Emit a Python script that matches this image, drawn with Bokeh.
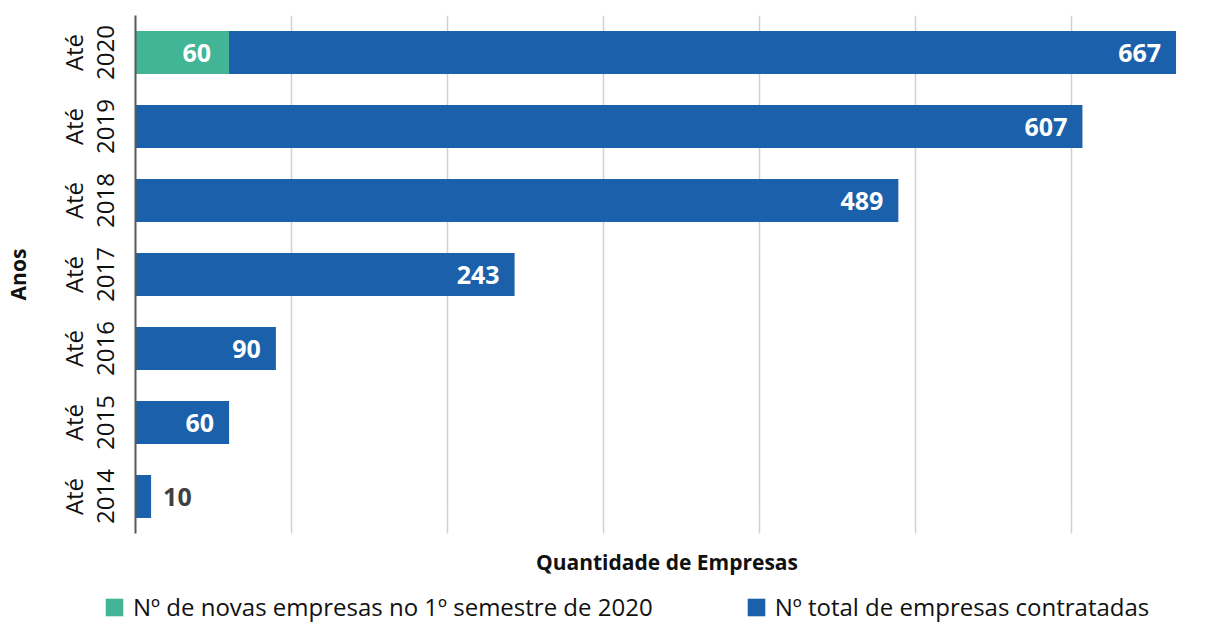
import math
from bokeh.plotting import figure
from bokeh.layouts import column
from bokeh.models import ColumnDataSource, Range1d, FixedTicker, Legend, LegendItem, LinearAxis
from bokeh.core.properties import value
from bokeh.embed import file_html
from bokeh.resources import INLINE

# ---- data ----
categories = ["Até 2014", "Até 2015", "Até 2016", "Até 2017", "Até 2018", "Até 2019", "Até 2020"]
label_prefix = ["Até", "Até", "Até", "Até", "Até", "Até", "Até"]
label_years = ["2014", "2015", "2016", "2017", "2018", "2019", "2020"]
totals = [10, 60, 90, 243, 489, 607, 667]
new_2020 = [0, 0, 0, 0, 0, 0, 60]
series_names = ["Nº de novas empresas no 1º semestre de 2020", "Nº total de empresas contratadas"]
x_ticks = [0, 100, 200, 300, 400, 500, 600]
x_title = "Quantidade de Empresas"
y_title = "Anos"

BLUE = "#1B60AB"
GREEN = "#41B596"
FONT = "Open Sans"
TXT = "#111111"

ys = [i + 0.5 for i in range(len(categories))]

p = figure(width=1198, height=590, x_range=Range1d(0, 681.4), y_range=Range1d(0, len(categories)),
           output_backend="svg", toolbar_location=None,
           min_border_left=135, min_border_right=0, min_border_top=15, min_border_bottom=57)
p.outline_line_color = None
p.frame_align = False

# x axis: only the title
xa = p.xaxis[0]
xa.ticker = FixedTicker(ticks=x_ticks)
xa.major_label_overrides = {t: "" for t in x_ticks}
xa.major_label_text_font_size = "0px"
xa.major_label_standoff = 0
xa.major_tick_in = 0
xa.major_tick_out = 0
xa.minor_tick_in = 0
xa.minor_tick_out = 0
xa.axis_line_color = None
xa.axis_label = x_title
xa.axis_label_standoff = 14
xa.axis_label_text_font = FONT
xa.axis_label_text_font_style = "bold"
xa.axis_label_text_font_size = "21px"
xa.axis_label_text_color = TXT

p.xgrid.ticker = FixedTicker(ticks=x_ticks)
p.xgrid.grid_line_color = "#D0D0D0"
p.xgrid.grid_line_width = 1.5
p.ygrid.visible = False

# y axis (inner): years
ya = p.yaxis[0]
ya.ticker = FixedTicker(ticks=ys)
ya.major_label_overrides = {y: t for y, t in zip(ys, label_years)}
ya.major_label_orientation = "vertical"
ya.major_tick_in = 0
ya.major_tick_out = 0
ya.minor_tick_in = 0
ya.minor_tick_out = 0
ya.major_label_standoff = 22
ya.axis_line_color = "#595959"
ya.axis_line_width = 2
ya.major_label_text_font = FONT
ya.major_label_text_font_size = "24px"
ya.major_label_text_color = TXT

# y axis (outer): "Até" + axis title
ya2 = LinearAxis(ticker=FixedTicker(ticks=ys),
                 major_label_overrides={y: t for y, t in zip(ys, label_prefix)},
                 major_label_orientation="vertical",
                 major_tick_in=0, major_tick_out=0, minor_tick_in=0, minor_tick_out=0,
                 major_label_standoff=4, axis_line_color=None,
                 major_label_text_font=FONT, major_label_text_font_size="24px",
                 major_label_text_color=TXT,
                 axis_label=y_title, axis_label_standoff=22,
                 axis_label_text_font=FONT, axis_label_text_font_style="bold",
                 axis_label_text_font_size="21px", axis_label_text_color=TXT)
p.add_layout(ya2, "left")

src = ColumnDataSource(dict(y=ys, total=totals, cat=categories))
blue_r = p.hbar(y="y", left=0, right="total", height=0.58, source=src, fill_color=BLUE, line_color=None)

g_y = [y for y, n in zip(ys, new_2020) if n > 0]
g_n = [n for n in new_2020 if n > 0]
gsrc = ColumnDataSource(dict(y=g_y, new=g_n))
green_r = p.hbar(y="y", left=0, right="new", height=0.58, source=gsrc, fill_color=GREEN, line_color=None)

# value labels
lab_txt, lab_x, lab_y, lab_off, lab_align, lab_col = [], [], [], [], [], []
for y, t in zip(ys, totals):
    lab_txt.append(str(t)); lab_x.append(t); lab_y.append(y)
    if t < 30:
        lab_off.append(12); lab_align.append("left"); lab_col.append("#404040")
    else:
        lab_off.append(-15); lab_align.append("right"); lab_col.append("white")
for y, n in zip(g_y, g_n):
    lab_txt.append(str(n)); lab_x.append(n); lab_y.append(y)
    lab_off.append(-18); lab_align.append("right"); lab_col.append("white")
tsrc = ColumnDataSource(dict(x=lab_x, y=lab_y, text=lab_txt, off=lab_off, align=lab_align, col=lab_col))
p.text(x="x", y="y", text="text", x_offset="off", text_align="align", text_color="col", source=tsrc,
       text_baseline="middle", text_font=value(FONT), text_font_style="bold", text_font_size="25px")

# legend in its own strip below the chart (swatch renderers sit outside the strip's visible range)
pl = figure(width=1198, height=33, x_range=Range1d(0, 1), y_range=Range1d(0, 1),
            output_backend="svg", toolbar_location=None, x_axis_type=None, y_axis_type=None,
            min_border_left=0, min_border_right=0, min_border_top=0, min_border_bottom=0)
pl.outline_line_color = None
pl.grid.visible = False
pl.frame_align = False
swatch = ColumnDataSource(dict(y=[-5], r=[1]))
lg_green = pl.hbar(y="y", right="r", height=0.5, source=swatch, fill_color=GREEN, line_color=None)
lg_blue = pl.hbar(y="y", right="r", height=0.5, source=swatch, fill_color=BLUE, line_color=None)
legend = Legend(items=[LegendItem(label=series_names[0], renderers=[lg_green]),
                       LegendItem(label=series_names[1], renderers=[lg_blue])],
                orientation="horizontal", location=(103, 0), spacing=92,
                glyph_width=22, glyph_height=22, label_standoff=8, padding=0, margin=0,
                border_line_alpha=0, background_fill_alpha=0,
                label_text_font=FONT, label_text_font_size="24px", label_text_color=TXT)
pl.add_layout(legend)

open("out.html", "w").write(file_html(column(p, pl, spacing=0), INLINE))
